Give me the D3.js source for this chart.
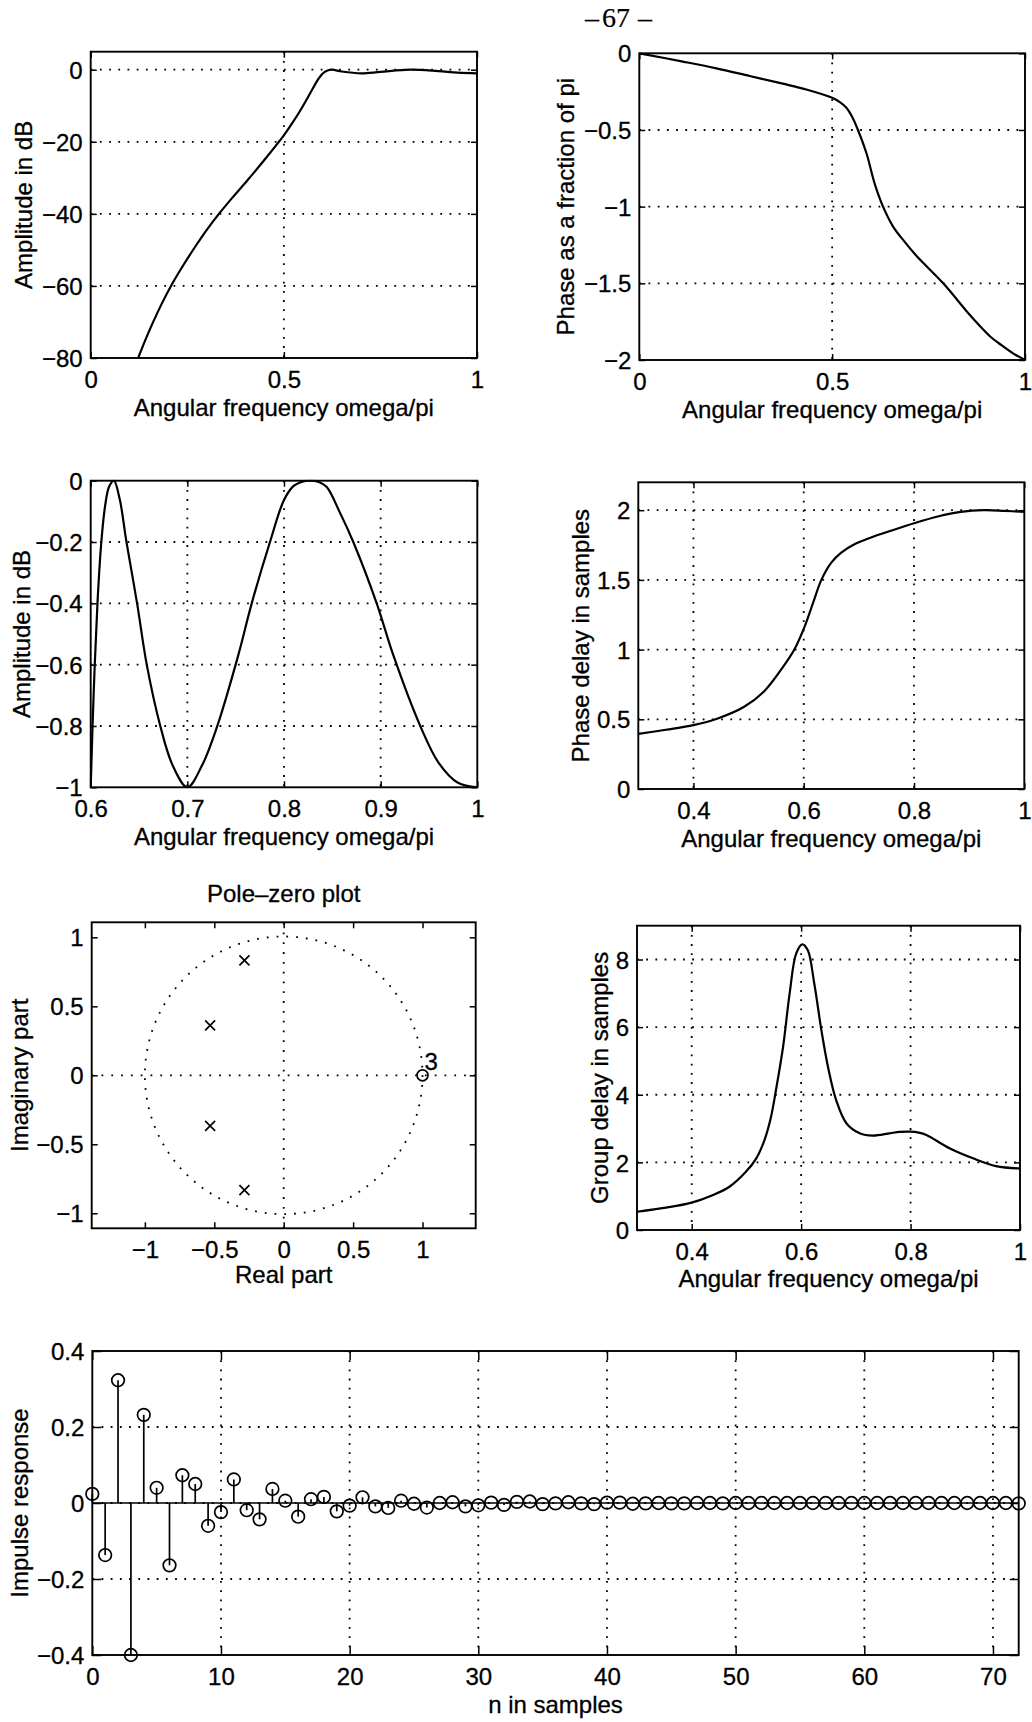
<!DOCTYPE html>
<html><head><meta charset="utf-8">
<script src="https://cdn.jsdelivr.net/npm/d3@7"></script>
<style>
body{margin:0;background:#fff;}
svg text{font-family:"Liberation Sans",Arial,Helvetica,sans-serif;font-size:24px;fill:#000;stroke:#000;stroke-width:0.3px;}
</style></head><body>
<svg id="c" width="1032" height="1722"></svg>
<script>
// ---------- data ----------
// 1. Magnitude response, full band
const magOmega = [0.123,0.14,0.16,0.185,0.21,0.24,0.27,0.30,0.335,0.37,0.408,0.45,0.488,0.5,0.52,0.541,0.56,0.576,0.59,0.6,0.61,0.624,0.65,0.7,0.75,0.827,0.9,0.95,1.0];
const magDb    = [-80,-75.4,-70.4,-64.7,-59.6,-54.2,-49.2,-44.5,-39.6,-35.1,-30.4,-25.0,-19.9,-18.2,-15.1,-11.6,-8.1,-5.0,-2.5,-1.1,-0.35,0,-0.5,-1.0,-0.6,0,-0.4,-0.8,-1.0];
const magXTicks = [0,0.5,1];
const magYTicks = [-80,-60,-40,-20,0];

// 2. Phase, fraction of pi
const phOmega = [0,0.113,0.2,0.286,0.372,0.433,0.5,0.52,0.537,0.552,0.567,0.589,0.61,0.632,0.658,0.684,0.719,0.788,0.848,0.88,0.909,0.94,0.97,1.0];
const phVal   = [0,-0.054,-0.098,-0.148,-0.198,-0.236,-0.29,-0.318,-0.355,-0.415,-0.5,-0.652,-0.848,-1.0,-1.13,-1.217,-1.322,-1.5,-1.68,-1.77,-1.845,-1.905,-1.958,-2.0];
const phXTicks = [0,0.5,1];
const phYTicks = [-2,-1.5,-1,-0.5,0];

// 3. Passband detail
const pbOmega = [0.6,0.603,0.607,0.611,0.615,0.619,0.624,0.63,0.637,0.648,0.658,0.672,0.685,0.7,0.715,0.731,0.7527,0.7666,0.7855,0.8,0.81,0.818,0.827,0.836,0.844,0.858,0.8717,0.8959,0.9131,0.941,0.96,0.98,1.0];
const pbDb    = [-1.0,-0.7,-0.4,-0.2,-0.08,-0.02,0,-0.06,-0.2,-0.4,-0.6,-0.8,-0.93,-1.0,-0.93,-0.8,-0.569,-0.4,-0.2,-0.063,-0.017,-0.004,0,-0.004,-0.02,-0.105,-0.2,-0.4,-0.569,-0.8,-0.92,-0.985,-1.0];
const pbXTicks = [0.6,0.7,0.8,0.9,1];
const pbYTicks = [-1,-0.8,-0.6,-0.4,-0.2,0];

// 4. Phase delay
const pdOmega = [0.3,0.35,0.4,0.444,0.492,0.528,0.559,0.583,0.602,0.617,0.632,0.65,0.668,0.692,0.722,0.758,0.8,0.843,0.885,0.927,0.964,1.0];
const pdVal   = [0.395,0.425,0.458,0.506,0.59,0.70,0.856,1.0,1.168,1.336,1.5,1.624,1.696,1.756,1.804,1.852,1.906,1.955,1.988,2.0,1.995,1.988];
const pdXTicks = [0.4,0.6,0.8,1];
const pdYTicks = [0,0.5,1,1.5,2];

// 5. Pole-zero
const poleRe = [-0.283,-0.53,-0.53,-0.283];
const poleIm = [0.833,0.362,-0.367,-0.833];
const zeroRe = [1];
const zeroIm = [0];
const zeroMult = ["3"];
const pzXTicks = [-1,-0.5,0,0.5,1];
const pzYTicks = [-1,-0.5,0,0.5,1];

// 6. Group delay
const gdOmega = [0.3,0.353,0.4,0.438,0.469,0.499,0.518,0.533,0.545,0.554,0.567,0.579,0.591,0.602,0.612,0.624,0.637,0.649,0.664,0.683,0.707,0.731,0.762,0.78,0.8,0.815,0.829,0.872,0.914,0.956,1.0];
const gdVal   = [0.54,0.66,0.81,1.03,1.28,1.72,2.12,2.66,3.35,4.14,5.42,7.0,8.18,8.45,8.28,7.29,5.91,4.83,3.84,3.15,2.86,2.79,2.86,2.90,2.91,2.88,2.81,2.41,2.12,1.89,1.82];
const gdXTicks = [0.4,0.6,0.8,1];
const gdYTicks = [0,2,4,6,8];

// 7. Impulse response h[n], n = 0..72
const impulse = [0.024,-0.137,0.323,-0.40,0.232,0.04,-0.164,0.073,0.05,-0.06,
  -0.024,0.062,-0.019,-0.043,0.037,0.006,-0.036,0.01,0.016,-0.022,
  -0.007,0.015,-0.009,-0.013,0.006,-0.002,-0.012,0.0,0.002,-0.009,
  -0.006,0.001,-0.005,0.003,0.004,-0.003,-0.001,0.002,-0.001,-0.003,
  0.001,0.001,-0.002,-0.001,0.0,-0.001,-0.001,0.0,0.0,-0.001,
  0.0,0.0,0.0,0.0,0.0,0.0,0.0,0.0,0.0,0.0,
  0.0,0.0,0.0,0.0,0.0,0.0,0.0,0.0,0.0,0.0,
  0.0,0.0,-0.001];
const irXTicks = [0,10,20,30,40,50,60,70];
const irYTicks = [-0.4,-0.2,0,0.2,0.4];

// page header
const pageParts = ["\u2013", "67", "\u2013"];

// ---------- drawing ----------
const svg = d3.select("#c");
const fmt = v => String(+(+v).toFixed(6)).replace("-", "\u2212");
let clipId = 0;

function panel(o) {
  const x = d3.scaleLinear().domain(o.xDom).range([o.l, o.r]);
  const y = d3.scaleLinear().domain(o.yDom).range([o.b, o.t]);
  const g = svg.append("g");
  const tl = o.tickLen || 6;
  if (o.grid !== false) {
    const gx = o.xTicks.filter(v => Math.abs(x(v)-o.l) > 1 && Math.abs(x(v)-o.r) > 1);
    const gy = o.yTicks.filter(v => Math.abs(y(v)-o.t) > 1 && Math.abs(y(v)-o.b) > 1);
    g.selectAll(".gx").data(gx).join("line")
      .attr("x1", d => x(d)).attr("x2", d => x(d)).attr("y1", o.t).attr("y2", o.b)
      .attr("stroke", "#000").attr("stroke-width", 1.8).attr("stroke-dasharray", "1.8 7.4");
    g.selectAll(".gy").data(gy).join("line")
      .attr("y1", d => y(d)).attr("y2", d => y(d)).attr("x1", o.l).attr("x2", o.r)
      .attr("stroke", "#000").attr("stroke-width", 1.8).attr("stroke-dasharray", "1.8 7.4");
  }
  const ab = g.append("g").attr("transform", `translate(0,${o.b})`)
    .call(d3.axisBottom(x).tickValues(o.xTicks).tickSize(-tl).tickFormat(fmt));
  ab.selectAll("text").attr("dy", null).attr("y", o.xTickDy || 30);
  const at = g.append("g").attr("transform", `translate(0,${o.t})`)
    .call(d3.axisTop(x).tickValues(o.xTicks).tickSize(-tl).tickFormat(""));
  const al = g.append("g").attr("transform", `translate(${o.l},0)`)
    .call(d3.axisLeft(y).tickValues(o.yTicks).tickSize(-tl).tickPadding(8).tickFormat(fmt));
  al.selectAll("text").attr("dy", "0.36em");
  const ar = g.append("g").attr("transform", `translate(${o.r},0)`)
    .call(d3.axisRight(y).tickValues(o.yTicks).tickSize(-tl).tickFormat(""));
  [ab, at, al, ar].forEach(a => {
    a.attr("font-size", null).attr("font-family", null);
    a.select(".domain").remove();
    a.selectAll(".tick line").attr("stroke-width", 1.5);
  });
  g.append("rect").attr("x", o.l).attr("y", o.t).attr("width", o.r-o.l).attr("height", o.b-o.t)
    .attr("fill", "none").attr("stroke", "#000").attr("stroke-width", 1.9);
  if (o.xLabel) g.append("text").attr("x", (o.l+o.r)/2).attr("y", o.b + (o.xLabelDy || 58))
    .attr("text-anchor", "middle").text(o.xLabel);
  if (o.yLabel) g.append("text")
    .attr("transform", `translate(${o.yLabelX},${(o.t+o.b)/2}) rotate(-90)`)
    .attr("text-anchor", "middle").text(o.yLabel);
  if (o.title) g.append("text").attr("x", (o.l+o.r)/2).attr("y", o.t - 20)
    .attr("text-anchor", "middle").text(o.title);
  const id = "clip" + (clipId++);
  svg.append("clipPath").attr("id", id).append("rect")
    .attr("x", o.l-1).attr("y", o.t-1).attr("width", o.r-o.l+2).attr("height", o.b-o.t+2);
  return {x, y, g, clip: `url(#${id})`};
}

function curve(p, xs, ys) {
  const line = d3.line().x(d => p.x(d[0])).y(d => p.y(d[1])).curve(d3.curveCatmullRom.alpha(0.5));
  p.g.append("path").datum(xs.map((v, i) => [v, ys[i]]))
    .attr("d", line).attr("fill", "none").attr("stroke", "#000")
    .attr("stroke-width", 2.2).attr("stroke-linejoin", "round")
    .attr("clip-path", p.clip);
}

// page number
svg.selectAll(".pg").data(pageParts).join("text").attr("class", "pg")
  .attr("x", (d, i) => [592, 616, 645][i]).attr("y", 27).attr("text-anchor", "middle")
  .attr("style", "font-family:'Liberation Serif','Times New Roman',serif;font-size:28px;stroke-width:0.2px")
  .text(d => d);

// Panel 1
const p1 = panel({l: 90.7, r: 477, t: 51.7, b: 358, xDom: [0, 1], yDom: [-80, 5],
  xTicks: magXTicks, yTicks: magYTicks, xLabel: "Angular frequency omega/pi",
  yLabel: "Amplitude in dB", yLabelX: 32});
curve(p1, magOmega, magDb);

// Panel 2
const p2 = panel({l: 639.3, r: 1025, t: 53.3, b: 360, xDom: [0, 1], yDom: [-2, 0],
  xTicks: phXTicks, yTicks: phYTicks, xLabel: "Angular frequency omega/pi",
  yLabel: "Phase as a fraction of pi", yLabelX: 574});
curve(p2, phOmega, phVal);

// Panel 3
const p3 = panel({l: 90.7, r: 477.3, t: 480.7, b: 787.3, xDom: [0.6, 1], yDom: [-1, 0],
  xTicks: pbXTicks, yTicks: pbYTicks, xLabel: "Angular frequency omega/pi",
  yLabel: "Amplitude in dB", yLabelX: 30});
curve(p3, pbOmega, pbDb);

// Panel 4
const p4 = panel({l: 638.3, r: 1024.3, t: 482.3, b: 789, xDom: [0.3, 1], yDom: [0, 2.2],
  xTicks: pdXTicks, yTicks: pdYTicks, xLabel: "Angular frequency omega/pi",
  yLabel: "Phase delay in samples", yLabelX: 589});
curve(p4, pdOmega, pdVal);

// Panel 5 : pole-zero
const p5 = panel({l: 91.7, r: 475.7, t: 922.3, b: 1228.3, xDom: [-1.383, 1.383], yDom: [-1.109, 1.109],
  xTicks: pzXTicks, yTicks: pzYTicks, grid: false, xLabel: "Real part", xLabelDy: 55,
  yLabel: "Imaginary part", yLabelX: 28, title: "Pole\u2013zero plot"});
{
  const {x, y, g} = p5;
  const dot = {stroke: "#000", "stroke-width": 1.8, "stroke-dasharray": "1.8 8"};
  const l1 = g.append("line").attr("x1", x.range()[0]).attr("x2", x.range()[1]).attr("y1", y(0)).attr("y2", y(0));
  const l2 = g.append("line").attr("y1", y.range()[0]).attr("y2", y.range()[1]).attr("x1", x(0)).attr("x2", x(0));
  const c = g.append("circle").attr("cx", x(0)).attr("cy", y(0)).attr("r", x(1) - x(0)).attr("fill", "none");
  [l1, l2, c].forEach(s => Object.entries(dot).forEach(([k, v]) => s.attr(k, v)));
  const poles = poleRe.map((r, i) => [r, poleIm[i]]);
  const s = 5;
  g.selectAll(".pole").data(poles).join("path")
    .attr("d", d => `M${x(d[0])-s},${y(d[1])-s}L${x(d[0])+s},${y(d[1])+s}M${x(d[0])-s},${y(d[1])+s}L${x(d[0])+s},${y(d[1])-s}`)
    .attr("stroke", "#000").attr("stroke-width", 1.7).attr("fill", "none");
  const zeros = zeroRe.map((r, i) => [r, zeroIm[i], zeroMult[i]]);
  g.selectAll(".zero").data(zeros).join("circle")
    .attr("cx", d => x(d[0])).attr("cy", d => y(d[1])).attr("r", 5.5)
    .attr("fill", "none").attr("stroke", "#000").attr("stroke-width", 1.7);
  g.selectAll(".zl").data(zeros).join("text")
    .attr("x", d => x(d[0]) + 2).attr("y", d => y(d[1]) - 5).text(d => d[2]);
}

// Panel 6
const p6 = panel({l: 637, r: 1020, t: 925.7, b: 1230, xDom: [0.3, 1], yDom: [0, 9],
  xTicks: gdXTicks, yTicks: gdYTicks, xLabel: "Angular frequency omega/pi", xLabelDy: 57,
  yLabel: "Group delay in samples", yLabelX: 608});
curve(p6, gdOmega, gdVal);

// Panel 7 : impulse response (stem)
const p7 = panel({l: 92.3, r: 1018.7, t: 1351, b: 1655, xDom: [0, 72], yDom: [-0.4, 0.4],
  xTicks: irXTicks, yTicks: irYTicks, tickLen: 9, xLabel: "n in samples",
  yLabel: "Impulse response", yLabelX: 28});
{
  const {x, y, g} = p7;
  const pts = impulse.map((v, n) => [n, v]);
  g.append("line").attr("x1", x(0)).attr("x2", x(72)).attr("y1", y(0)).attr("y2", y(0))
    .attr("stroke", "#000").attr("stroke-width", 1.7);
  g.selectAll(".stem").data(pts).join("line")
    .attr("x1", d => x(d[0])).attr("x2", d => x(d[0])).attr("y1", y(0)).attr("y2", d => y(d[1]))
    .attr("stroke", "#000").attr("stroke-width", 1.7);
  g.selectAll(".mk").data(pts).join("circle")
    .attr("cx", d => x(d[0])).attr("cy", d => y(d[1])).attr("r", 6.3)
    .attr("fill", "none").attr("stroke", "#000").attr("stroke-width", 1.7);
}
</script>
</body></html>
